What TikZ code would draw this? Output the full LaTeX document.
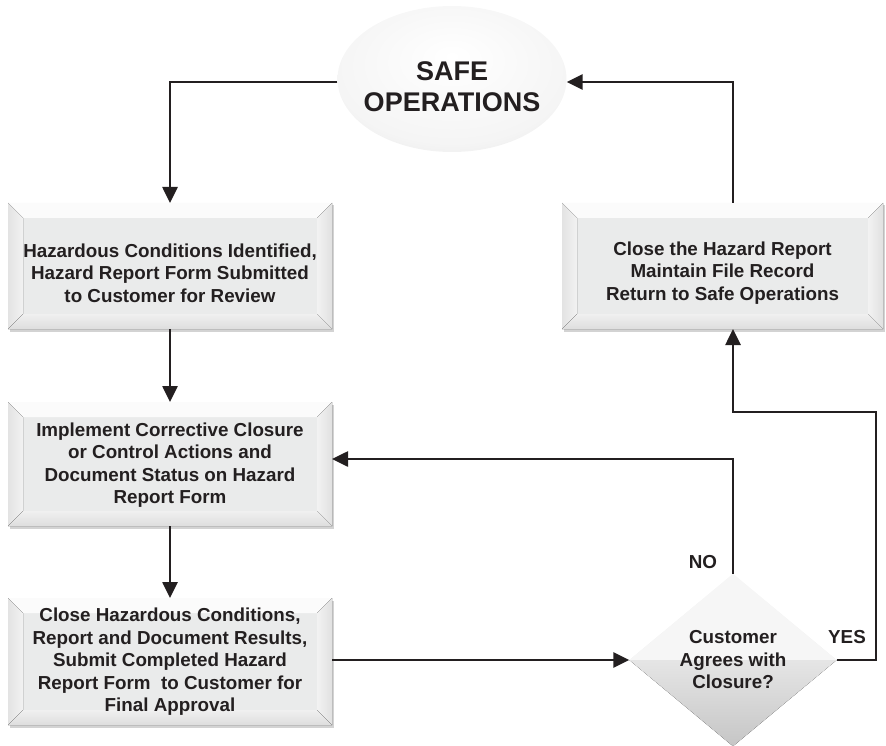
\documentclass[tikz,border=0pt]{standalone}
\usepackage{fontspec}
\setmainfont{Liberation Sans}
\usetikzlibrary{shapes.geometric,arrows.meta,shadows,calc}
\definecolor{ink}{HTML}{231F20}
\definecolor{face}{HTML}{EAEBEB}
\pgfdeclareradialshading{ellshade}{\pgfpoint{0bp}{8bp}}{color(0bp)=(white); color(26bp)=(white!92!gray); color(42bp)=(white!74!gray); color(50bp)=(white!58!gray)}
\tikzset{
  conn/.style={draw=ink, line width=2.6pt, -{Triangle[length=16pt,width=15pt]}},
  boxshape/.style={rectangle, inner sep=0pt, outer sep=0pt, fill=face,
    drop shadow={shadow xshift=1.5pt, shadow yshift=-2.5pt, opacity=0.35, fill=gray}},
  txt/.style={align=center, text=ink, font=\fontsize{18.8}{22.5}\selectfont\bfseries, inner sep=0pt},
  bigtxt/.style={align=center, text=ink, font=\fontsize{27}{31}\selectfont\bfseries, inner sep=0pt},
  ellshape/.style={ellipse, inner sep=0pt, shading=ellshade, minimum width=229pt, minimum height=146pt},
  diashape/.style={diamond, inner sep=0pt, minimum width=207pt, minimum height=172pt,
    top color=white!96!gray, bottom color=white!55!gray, middle color=white!85!gray},
}
\newcommand{\bevelbox}[1]{%
  \fill[white!97!gray] (#1.north west) -- (#1.north east) -- ([xshift=-15pt,yshift=-15pt]#1.north east) -- ([xshift=15pt,yshift=-15pt]#1.north west) -- cycle;
  \fill[left color=white!78!gray, right color=white!90!gray] (#1.north west) -- ([xshift=15pt,yshift=-15pt]#1.north west) -- ([xshift=15pt,yshift=15pt]#1.south west) -- (#1.south west) -- cycle;
  \fill[left color=white!90!gray, right color=white!76!gray] (#1.north east) -- ([xshift=-15pt,yshift=-15pt]#1.north east) -- ([xshift=-15pt,yshift=15pt]#1.south east) -- (#1.south east) -- cycle;
  \fill[top color=white!88!gray, bottom color=white!74!gray] (#1.south west) -- ([xshift=15pt,yshift=15pt]#1.south west) -- ([xshift=-15pt,yshift=15pt]#1.south east) -- (#1.south east) -- cycle;
}
\begin{document}
\begin{tikzpicture}[x=1pt,y=-1pt]
\useasboundingbox (0,0) rectangle (886,746);

% boxes
\node[boxshape, minimum width=324pt, minimum height=126pt] (b1) at (170,266) {};
\bevelbox{b1}
\node[boxshape, minimum width=321pt, minimum height=126pt] (b2) at (722.5,266) {};
\bevelbox{b2}
\node[boxshape, minimum width=324pt, minimum height=124pt] (b3) at (170,464) {};
\bevelbox{b3}
\node[boxshape, minimum width=324pt, minimum height=127pt] (b4) at (170,661.5) {};
\bevelbox{b4}

\node[txt] (t1) at (170,273) {Hazardous Conditions Identified,\\Hazard Report Form Submitted\\to Customer for Review};
\node[txt] (t2) at (722.5,273) {Close the Hazard Report\\Maintain File Record\\Return to Safe Operations};
\node[txt] (t3) at (170,465) {Implement Corrective Closure\\or Control Actions and\\Document Status on Hazard\\Report Form};
\node[txt] (t4) at (170,662) {Close Hazardous Conditions,\\Report and Document Results,\\Submit Completed Hazard\\Report Form\ \ to Customer for\\Final Approval};

% ellipse
\node[ellshape] (ell) at (452,79) {};
\node[bigtxt] (safe) at (452,87) {SAFE\\OPERATIONS};

% diamond
\node[diashape] (d) at (733,660) {};
\fill[white!93!gray] (d.west) -- (d.north) -- (d.east) -- cycle;
\fill[top color=white!80!gray, bottom color=white!55!gray] (d.west) -- (d.south) -- (d.east) -- cycle;
\node[txt] (dt) at (733,660) {Customer\\Agrees with\\Closure?};

% labels
\node[txt] (no) at (703,562) {NO};
\node[txt] (yes) at (847,637) {YES};

% connectors
\coordinate (yr) at (876,412);
\draw[conn] ([yshift=-3pt]ell.west) -| (b1.north);
\draw[conn] (b1.south) -- (b3.north);
\draw[conn] (b3.south) -- (b4.north);
\draw[conn] (b4.east |- d.west) -- (d.west);
\draw[conn] (d.north) |- ([yshift=5pt]b3.east);
\draw[conn] (d.east) -| (yr) -| (d.north |- b2.south);
\draw[conn] (d.north |- b2.north) |- ([yshift=-3pt]ell.east);
\end{tikzpicture}
\end{document}
